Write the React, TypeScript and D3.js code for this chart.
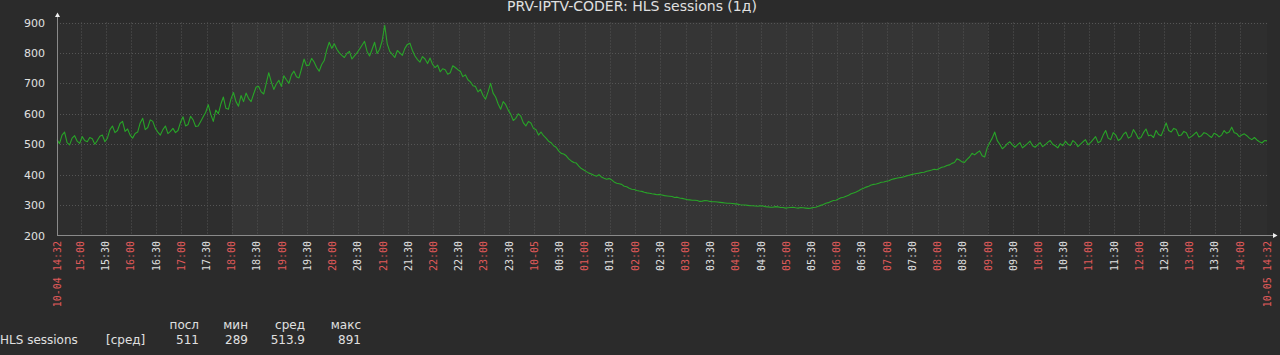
import React from "react";
import * as d3 from "d3";

const TITLE = "PRV-IPTV-CODER: HLS sessions (1д)";
const START = new Date(2023, 9, 4, 14, 32);
const END = new Date(2023, 9, 5, 14, 32);
const STEP_MIN = 3;
const WORK_START = new Date(2023, 9, 4, 18, 0);
const WORK_END = new Date(2023, 9, 5, 9, 0);

const VALUES = [
  515, 502, 530, 540, 505, 498, 520, 528, 510, 503, 525, 512, 508, 522, 518, 500, 512, 526, 530, 508,
  520, 548, 560, 538, 545, 568, 575, 542, 550, 530, 520, 535, 540, 570, 585, 548, 555, 580, 575, 552,
  540, 530, 548, 560, 535, 542, 552, 538, 545, 572, 590, 560, 565, 592, 580, 558, 560, 575, 590, 605,
  630, 598, 575, 612, 600, 632, 655, 618, 615, 648, 670, 640, 625, 660, 640, 668, 650, 640, 665, 688,
  690, 672, 665, 700, 735, 705, 680, 698, 710, 690, 725, 712, 700, 728, 740, 722, 718, 748, 780, 758,
  760, 782, 770, 752, 740, 762, 775, 810, 835, 815, 830, 812, 800, 792, 785, 798, 805, 780, 790, 800,
  812, 825, 838, 805, 790, 812, 835, 798, 812, 840, 891, 830, 805, 795, 785, 808, 800, 792, 815, 828,
  832, 808, 790, 778, 770, 788, 780, 765, 783, 762, 752, 760, 738, 748, 745, 730, 735, 758, 752, 745,
  740, 722, 728, 712, 705, 692, 690, 672, 680, 660, 648, 672, 700, 668, 655, 632, 615, 640, 630, 612,
  598, 578, 585, 600, 592, 570, 560, 575, 570, 552, 548, 530, 540, 528, 520, 510, 505, 495, 490, 478,
  470, 468, 462, 452, 445, 440, 438, 428, 420, 415, 410, 405, 402, 398, 395, 400, 392, 388, 385, 387,
  383, 376, 372, 370, 368, 362, 360, 355, 352, 351, 348, 346, 345, 342, 340, 339, 337, 336, 334, 335,
  333, 331, 330, 329, 328, 325, 326, 323, 322, 320, 318, 317, 316, 316, 315, 312, 313, 315, 314, 312,
  311, 311, 310, 309, 308, 307, 306, 306, 305, 304, 303, 301, 300, 300, 299, 298, 298, 297, 296, 298,
  297, 295, 294, 293, 293, 295, 294, 292, 292, 290, 291, 292, 293, 291, 290, 292, 291, 290, 289, 290,
  292, 293, 296, 299, 302, 306, 308, 312, 315, 316, 320, 324, 326, 329, 332, 337, 340, 343, 347, 352,
  355, 359, 362, 366, 368, 369, 372, 375, 376, 378, 380, 384, 386, 388, 390, 391, 393, 396, 398, 400,
  402, 404, 405, 407, 408, 411, 413, 415, 418, 416, 420, 424, 426, 430, 432, 437, 440, 452, 448, 442,
  440, 450, 458, 470, 465, 472, 478, 462, 458, 488, 505, 520, 540, 512, 500, 485, 492, 502, 508, 498,
  490, 498, 505, 488, 495, 502, 510, 495, 490, 498, 505, 492, 498, 506, 512, 500, 495, 488, 502, 495,
  510, 500, 496, 512, 505, 492, 500, 508, 515, 498, 505, 515, 525, 505, 510, 530, 545, 520, 515, 538,
  530, 512, 518, 532, 540, 520, 525, 548, 535, 518, 522, 538, 550, 528, 530, 522, 545, 532, 528, 548,
  570, 545, 540, 552, 548, 528, 530, 542, 538, 520, 525, 532, 540, 524, 528, 538, 535, 528, 522, 536,
  532, 524, 530, 545, 536, 540, 556, 538, 535, 525, 530, 534, 528, 520, 515, 522, 514, 508, 504, 512,
  511,
];

const Y_TICKS = [200, 300, 400, 500, 600, 700, 800, 900];
const LEGEND_NAME = "HLS sessions";
const LEGEND_FUNC = "[сред]";
const LEGEND_HEADERS = ["посл", "мин", "сред", "макс"];
const LEGEND_VALUES = ["511", "289", "513.9", "891"];

const W = 1280;
const H = 355;
const PLOT_L = 57;
const PLOT_R = 1267;
const PLOT_T = 22.5;
const PLOT_B = 235.5;

const BG = "#2b2b2b";
const PLOT_BG = "#2e2e2e";
const WORK_BG = "#353535";
const GRID = "#555555";
const AXIS = "#8a8a8a";
const TEXT = "#e0e0e0";
const RED = "#e05a5a";
const LINE = "#28a428";

export default function App() {
  const data = VALUES.map((v, i) => ({
    t: new Date(START.getTime() + i * STEP_MIN * 60000),
    v,
  }));
  const x = d3.scaleTime().domain([START, END]).range([PLOT_L, PLOT_R]);
  const y = d3.scaleLinear().domain([200, 900]).range([PLOT_B, PLOT_T]);
  const line = d3
    .line<{ t: Date; v: number }>()
    .x((d) => x(d.t))
    .y((d) => y(d.v));

  const ticks = d3.timeMinute
    .every(30)!
    .range(new Date(START.getTime() + 60000), END)
    .filter((d) => END.getTime() - d.getTime() > 10 * 60000);

  const fmtHM = d3.timeFormat("%H:%M");
  const fmtMD = d3.timeFormat("%m-%d");
  const fmtFull = d3.timeFormat("%m-%d %H:%M");

  const labelFor = (d: Date) => {
    if (d.getHours() === 0 && d.getMinutes() === 0) return { text: fmtMD(d), color: RED };
    if (d.getMinutes() === 0) return { text: fmtHM(d), color: RED };
    return { text: fmtHM(d), color: TEXT };
  };

  const xLabels = [
    { d: START, text: fmtFull(START), color: RED },
    ...ticks.map((d) => ({ d, ...labelFor(d) })),
    { d: END, text: fmtFull(END), color: RED },
  ];

  const headerRights = [199, 248, 305, 361];

  return (
    <svg
      width={W}
      height={H}
      style={{ position: "fixed", left: 0, top: 0, background: BG }}
      fontFamily="DejaVu Sans, sans-serif"
    >
      <rect x={0} y={0} width={W} height={H} fill={BG} />
      <rect x={PLOT_L} y={PLOT_T} width={PLOT_R - PLOT_L} height={PLOT_B - PLOT_T} fill={PLOT_BG} />
      <rect
        x={x(WORK_START)}
        y={PLOT_T}
        width={x(WORK_END) - x(WORK_START)}
        height={PLOT_B - PLOT_T}
        fill={WORK_BG}
      />
      <text x={632} y={11} fill={TEXT} fontSize={14} textAnchor="middle">
        {TITLE}
      </text>

      {Y_TICKS.filter((t) => t > 200).map((t) => (
        <line
          key={"h" + t}
          x1={PLOT_L}
          x2={PLOT_R}
          y1={Math.round(y(t)) + 0.5}
          y2={Math.round(y(t)) + 0.5}
          stroke={GRID}
          strokeDasharray="1,2"
        />
      ))}
      {ticks.map((d) => (
        <line
          key={"v" + d.getTime()}
          x1={Math.round(x(d)) + 0.5}
          x2={Math.round(x(d)) + 0.5}
          y1={PLOT_T}
          y2={PLOT_B}
          stroke={GRID}
          strokeDasharray="1,2"
        />
      ))}

      <path d={line(data) || ""} fill="none" stroke={LINE} strokeWidth={1.1} strokeLinejoin="round" />

      <line x1={PLOT_L + 0.5} x2={PLOT_L + 0.5} y1={16} y2={PLOT_B} stroke={AXIS} />
      <line x1={PLOT_L} x2={1273} y1={PLOT_B} y2={PLOT_B} stroke={AXIS} />
      <path d={`M${PLOT_L + 0.5},12.5 L${PLOT_L + 3},17 L${PLOT_L - 2},17 Z`} fill="#f0f0f0" />
      <path d={`M1277.5,${PLOT_B} L1273,${PLOT_B - 2.5} L1273,${PLOT_B + 2.5} Z`} fill="#f0f0f0" />

      {Y_TICKS.map((t) => (
        <text key={"yl" + t} x={45} y={y(t) + 4} fill={TEXT} fontSize={11} textAnchor="end">
          {t}
        </text>
      ))}

      {xLabels.map((l) => (
        <text
          key={"xl" + l.d.getTime()}
          transform={`translate(${x(l.d)},241) rotate(-90)`}
          fill={l.color}
          fontSize={10}
          fontFamily="DejaVu Sans Mono, monospace"
          textAnchor="end"
          dominantBaseline="central"
        >
          {l.text}
        </text>
      ))}

      <text x={0} y={344} fill={TEXT} fontSize={12}>
        {LEGEND_NAME}
      </text>
      <text x={106} y={344} fill={TEXT} fontSize={12}>
        {LEGEND_FUNC}
      </text>
      {LEGEND_HEADERS.map((h, i) => (
        <text key={"lh" + i} x={headerRights[i]} y={329} fill={TEXT} fontSize={12} textAnchor="end">
          {h}
        </text>
      ))}
      {LEGEND_VALUES.map((v, i) => (
        <text key={"lv" + i} x={headerRights[i]} y={344} fill={TEXT} fontSize={12} textAnchor="end">
          {v}
        </text>
      ))}
    </svg>
  );
}
